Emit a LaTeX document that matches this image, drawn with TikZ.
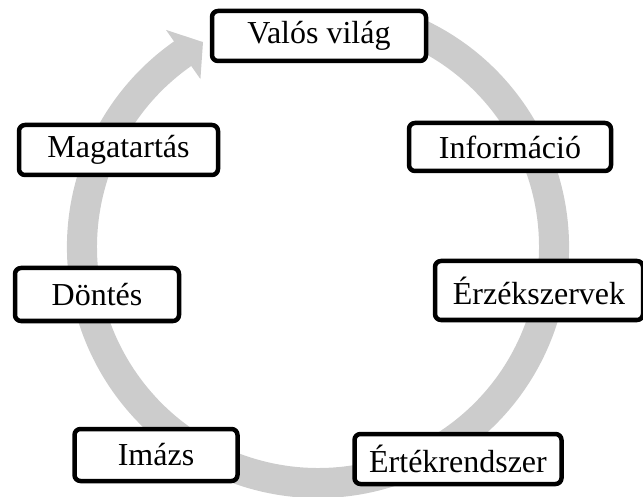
\documentclass[tikz,border=0pt]{standalone}
\usepackage{fontspec}
\setmainfont{Liberation Serif}
\definecolor{ringgray}{HTML}{CCCCCC}
\tikzset{
  stagebox/.style={draw=black, line width=4.5pt, rounded corners=6pt, fill=white,
    inner sep=0pt, font=\fontsize{32}{36}\selectfont, anchor=center},
}
\begin{document}
\begin{tikzpicture}[x=1pt,y=1pt]
\useasboundingbox (0,0) rectangle (643,-497);
% circular arrow
\begin{scope}[shift={(318,-247)}]
\fill[ringgray] (70:251) arc[start angle=70, end angle=-235, radius=251]
  -- (125:265) -- (119.3:235) -- (125:205)
  -- (125:221) arc[start angle=-235, end angle=70, radius=221] -- cycle;
\end{scope}
% boxes
\node[stagebox, minimum width=214, minimum height=50] (valos) at (319,-36) {Valós világ};
\node[stagebox, minimum width=202, minimum height=48] (info) at (510,-147) {Információ};
\node[stagebox, minimum width=208, minimum height=59] (erz) at (539,-290.5) {Érzékszervek};
\node[stagebox, minimum width=207, minimum height=50] (ertek) at (458,-459) {Értékrendszer};
\node[stagebox, minimum width=163, minimum height=52] (imazs) at (156,-455) {Imázs};
\node[stagebox, minimum width=164, minimum height=53] (dontes) at (97,-294.5) {Döntés};
\node[stagebox, minimum width=199, minimum height=50] (magatartas) at (118.5,-150) {Magatartás};
\end{tikzpicture}
\end{document}
